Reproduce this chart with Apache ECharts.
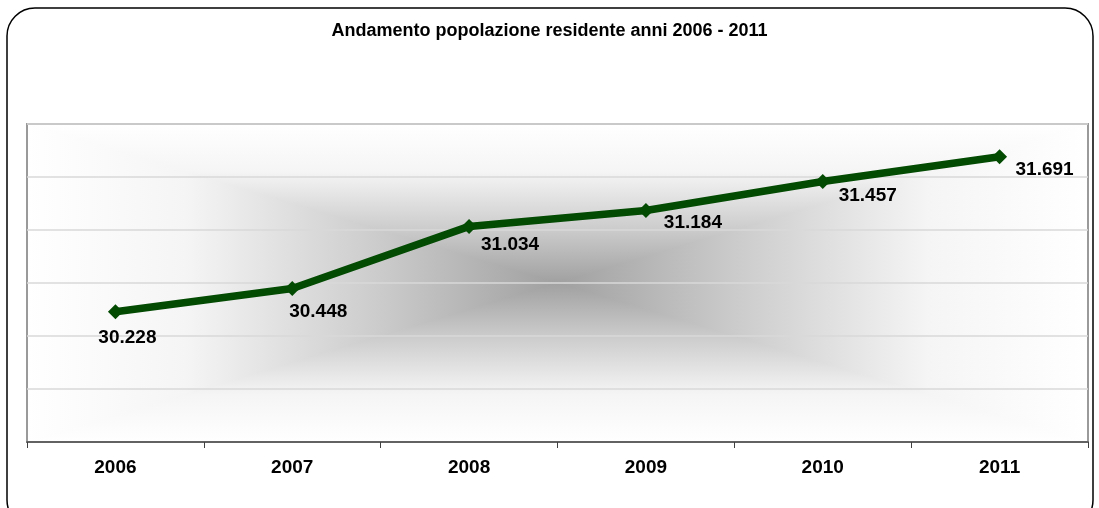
<!DOCTYPE html>
<html>

<head>
    <meta charset="utf-8" />
    <script src="https://cdn.jsdelivr.net/npm/echarts@6/dist/echarts.min.js"></script>
    <style>
        body { margin: 0; background: #fff; }
    </style>
</head>

<body>
    <div id="main" style="width: 1099px;height:508px;"></div>
    <script type="text/javascript">
        // dati
        const anni = ['2006', '2007', '2008', '2009', '2010', '2011'];
        const popolazione = [30.228, 30.448, 31.034, 31.184, 31.457, 31.691];
        // spostamento etichette (come nel grafico originale)
        const labelOffsets = [[12, 26], [26, 23], [41, 18], [47, 12], [45, 14], [45, 13]];

        const W = 1099, H = 508;
        const grid = { left: 27, right: 11, top: 124, bottom: 66 };
        const gx = grid.left, gy = grid.top;
        const gw = W - grid.left - grid.right, gh = H - grid.top - grid.bottom;
        const cx = gx + gw / 2, cy = gy + gh / 2;
        const FONT = 'Liberation Sans';

        // sfondo con gradiente "dal centro" (4 triangoli)
        const stops = function (rev) {
            const s = [
                { offset: 0, color: '#ffffff' },
                { offset: 0.3, color: '#f5f5f5' },
                { offset: 0.65, color: '#cdcdcd' },
                { offset: 1, color: '#a0a0a0' }
            ];
            return rev ? s.map(function (o) { return { offset: 1 - o.offset, color: o.color }; }) : s;
        };
        function tri(points, x, y, x2, y2, rev) {
            const g = new echarts.graphic.LinearGradient(x, y, x2, y2, stops(rev));
            return {
                type: 'polygon',
                z: -1,
                silent: true,
                shape: { points: points },
                style: { fill: g, stroke: g, lineWidth: 1.2 }
            };
        }

        const myChart = echarts.init(document.getElementById('main'), null, { renderer: 'canvas' });
        const option = {
            animation: false,
            title: {
                text: 'Andamento popolazione residente anni 2006 - 2011',
                left: 'center',
                top: 17,
                textStyle: { fontFamily: FONT, fontWeight: 'bold', fontSize: 18, color: '#000' }
            },
            graphic: {
                elements: [
                    tri([[gx, gy], [gx + gw, gy], [cx, cy]], 0, 0, 0, 1, false),
                    tri([[gx, gy + gh], [gx + gw, gy + gh], [cx, cy]], 0, 0, 0, 1, true),
                    tri([[gx, gy], [gx, gy + gh], [cx, cy]], 0, 0, 1, 0, false),
                    tri([[gx + gw, gy], [gx + gw, gy + gh], [cx, cy]], 0, 0, 1, 0, true),
                    {
                        type: 'rect',
                        z: 10,
                        silent: true,
                        shape: { x: 7, y: 8, width: 1086, height: 520, r: 28 },
                        style: { fill: 'none', stroke: '#000', lineWidth: 1.5 }
                    }
                ]
            },
            grid: {
                left: grid.left,
                right: grid.right,
                top: grid.top,
                bottom: grid.bottom,
                show: true,
                backgroundColor: 'transparent',
                borderColor: '#9a9a9a',
                borderWidth: 2
            },
            xAxis: {
                type: 'category',
                data: anni,
                boundaryGap: true,
                axisLine: { lineStyle: { color: '#404040', width: 1.5 } },
                axisTick: { show: true, length: 6, lineStyle: { color: '#404040' } },
                axisLabel: {
                    margin: 16,
                    fontFamily: FONT,
                    fontWeight: 'bold',
                    fontSize: 19,
                    color: '#000'
                }
            },
            yAxis: {
                type: 'value',
                min: 29,
                max: 32,
                interval: 0.5,
                axisLine: { show: false },
                axisTick: { show: false },
                axisLabel: { show: false },
                splitLine: { lineStyle: { color: '#d9d9d9', width: 1.5 } }
            },
            series: [{
                type: 'line',
                data: popolazione.map(function (v, i) {
                    return {
                        value: v,
                        label: { offset: labelOffsets[i] }
                    };
                }),
                symbol: 'diamond',
                symbolSize: 15,
                lineStyle: { color: '#034a03', width: 7.5 },
                itemStyle: { color: '#034a03' },
                label: {
                    show: true,
                    position: 'inside',
                    fontFamily: FONT,
                    fontWeight: 'bold',
                    fontSize: 19,
                    color: '#000',
                    formatter: function (p) { return p.value.toFixed(3); }
                }
            }]
        };
        myChart.setOption(option);

        window.addEventListener('resize', myChart.resize);
    </script>
</body>

</html>
